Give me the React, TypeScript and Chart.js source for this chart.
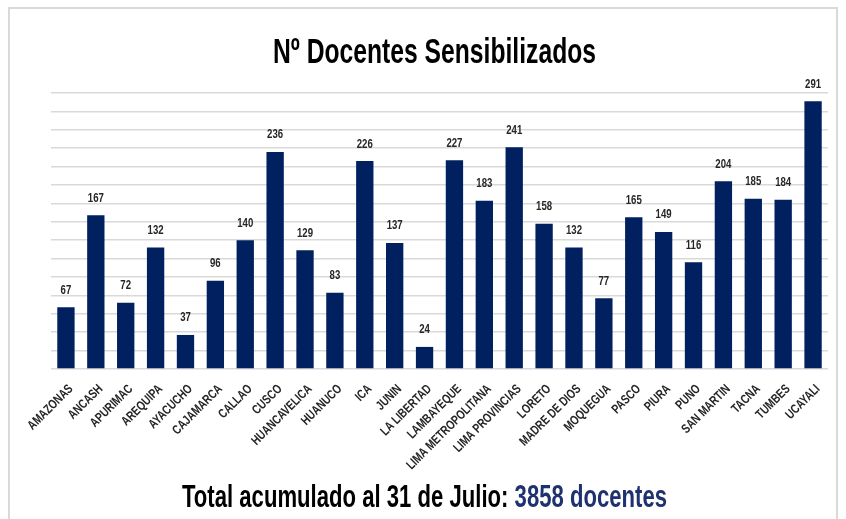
import { useEffect, useRef } from "react";
import { Chart, registerables } from "chart.js";

Chart.register(...registerables);

const categories = [
  "AMAZONAS", "ANCASH", "APURIMAC", "AREQUIPA", "AYACUCHO", "CAJAMARCA", "CALLAO", "CUSCO",
  "HUANCAVELICA", "HUANUCO", "ICA", "JUNIN", "LA LIBERTAD", "LAMBAYEQUE", "LIMA METROPOLITANA",
  "LIMA PROVINCIAS", "LORETO", "MADRE DE DIOS", "MOQUEGUA", "PASCO", "PIURA", "PUNO",
  "SAN MARTIN", "TACNA", "TUMBES", "UCAYALI",
];
const docentes = [
  67, 167, 72, 132, 37, 96, 140, 236, 129, 83, 226, 137, 24, 227, 183, 241, 158, 132, 77, 165,
  149, 116, 204, 185, 184, 291,
];
const yMax = 300;
const yStep = 20;
const titleText = "Nº Docentes Sensibilizados";
const footerLabel = "Total acumulado al 31 de Julio: ";
const footerUnit = "docentes";

const FONT = '"Liberation Sans Narrow", "Liberation Sans", Arial, sans-serif';
const BAR = "#002060";

function drawFitted(ctx: CanvasRenderingContext2D, parts: { text: string; color: string }[], font: string, x0: number, baseline: number, width: number) {
  ctx.save();
  ctx.font = font;
  ctx.textAlign = "left";
  ctx.textBaseline = "alphabetic";
  const total = parts.reduce((s, p) => s + ctx.measureText(p.text).width, 0);
  ctx.translate(x0, baseline);
  ctx.scale(width / total, 1);
  let x = 0;
  for (const p of parts) {
    ctx.fillStyle = p.color;
    ctx.fillText(p.text, x, 0);
    x += ctx.measureText(p.text).width;
  }
  ctx.restore();
}

const textPlugin = {
  id: "texts",
  afterDatasetsDraw(chart: any) {
    const ctx: CanvasRenderingContext2D = chart.ctx;
    const meta = chart.getDatasetMeta(0);
    // value labels
    ctx.save();
    ctx.font = `bold 12.5px ${FONT}`;
    ctx.fillStyle = "#262626";
    ctx.textAlign = "center";
    ctx.textBaseline = "alphabetic";
    meta.data.forEach((bar: any, i: number) => {
      ctx.save();
      ctx.translate(bar.x, bar.y - 13.5);
      ctx.scale(0.77, 1);
      ctx.fillText(String(docentes[i]), 0, 0);
      ctx.restore();
    });
    ctx.restore();
    // category labels (rotated, condensed)
    const xScale = chart.scales.x;
    const axisY = chart.chartArea.bottom;
    ctx.save();
    ctx.font = `bold 13px ${FONT}`;
    ctx.fillStyle = "#262626";
    ctx.textAlign = "right";
    ctx.textBaseline = "middle";
    categories.forEach((c, i) => {
      const x = xScale.getPixelForValue(i);
      ctx.save();
      ctx.translate(x + 5, axisY + 18);
      ctx.rotate(-Math.PI / 4);
      ctx.scale(0.77, 1);
      ctx.fillText(c, 0, 0);
      ctx.restore();
    });
    ctx.restore();
  },
  afterDraw(chart: any) {
    const ctx: CanvasRenderingContext2D = chart.ctx;
    drawFitted(ctx, [{ text: titleText, color: "#000000" }], `bold 35px ${FONT}`, 273, 62.5, 323);
    const sum = docentes.reduce((a, b) => a + b, 0);
    drawFitted(
      ctx,
      [
        { text: footerLabel, color: "#000000" },
        { text: `${sum} ${footerUnit}`, color: "#1f3270" },
      ],
      `bold 31px ${FONT}`,
      182,
      506.5,
      485
    );
  },
};

export default function App() {
  const ref = useRef<HTMLCanvasElement>(null);
  useEffect(() => {
    if (!ref.current) return;
    const chart = new Chart(ref.current, {
      type: "bar",
      data: {
        labels: categories,
        datasets: [
          {
            data: docentes,
            backgroundColor: BAR,
            borderWidth: 0,
            barPercentage: 0.58,
            categoryPercentage: 1,
          },
        ],
      },
      options: {
        responsive: false,
        animation: false,
        devicePixelRatio: 1,
        layout: { padding: { left: 51, right: 18, top: 93, bottom: 0 } },
        plugins: { legend: { display: false }, tooltip: { enabled: false }, title: { display: false } },
        scales: {
          x: {
            grid: { display: false },
            border: { display: false },
            ticks: { display: false },
            afterFit: (s: any) => {
              s.height = 150;
            },
          },
          y: {
            min: 0,
            max: yMax,
            ticks: { display: false, stepSize: yStep },
            grid: { color: "#d9d9d9", lineWidth: 1.5, drawTicks: false },
            border: { display: false },
            afterFit: (s: any) => {
              s.width = 0;
            },
          },
        },
      },
      plugins: [textPlugin],
    });
    return () => chart.destroy();
  }, []);

  return (
    <div>
      <div
        style={{
          position: "fixed",
          left: 8,
          top: 7,
          width: 830,
          height: 600,
          border: "2px solid #d9d9d9",
          boxSizing: "border-box",
        }}
      />
      <canvas
        ref={ref}
        width={846}
        height={519}
        style={{ position: "fixed", left: 0, top: 0, width: 846, height: 519 }}
      />
    </div>
  );
}
